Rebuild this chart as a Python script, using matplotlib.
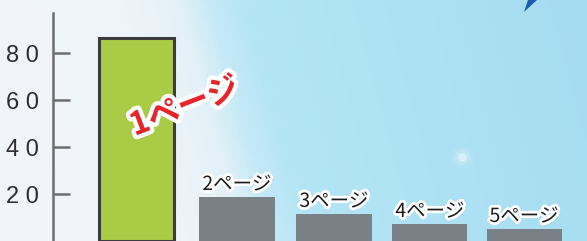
import matplotlib.pyplot as plt
import matplotlib.patheffects as pe
import numpy as np
from matplotlib.colors import LinearSegmentedColormap

# data
pages = ["1ページ", "2ページ", "3ページ", "4ページ", "5ページ"]
values = [86.5, 18.7, 11.5, 7.2, 5.1]
yticks = [20, 40, 60, 80]
ytick_labels = ["2 0", "4 0", "6 0", "8 0"]

plt.rcParams['font.family'] = ['Noto Sans CJK JP', 'DejaVu Sans']

fig = plt.figure(figsize=(5.87, 2.41), dpi=100)
ax = fig.add_axes([0, 0, 1, 1])

x = np.array([0, 1.037, 2.038, 3.028, 4.0])
xlim = (-1.409, 4.649)
ylim = (0, 102.6)
ax.set_xlim(*xlim)
ax.set_ylim(*ylim)

# soft sky background: white on the left, diagonal fade into light blue
bg = LinearSegmentedColormap.from_list(
    "bg", [(0, "#f1f5f9"), (0.2, "#eef4f8"), (0.3, "#e4f1f8"),
           (0.36, "#c4e9f7"), (0.42, "#b3e5f5"), (1, "#a6dcf0")])
px, py = np.meshgrid(np.arange(587), np.arange(241))
t = np.clip((px - 0.27 * py) / 587, 0, 1)
ax.imshow(t, cmap=bg, vmin=0, vmax=1, extent=(*xlim, *ylim),
          aspect='auto', zorder=0, origin='upper')

# glow spot and blue corner shape
for s, a in [(260, 0.08), (120, 0.15), (40, 0.4)]:
    ax.scatter([462 / 587], [1 - 157 / 241], s=s, color='white', alpha=a,
               lw=0, transform=ax.transAxes, zorder=0.5)
ax.add_patch(plt.Polygon([(528 / 587, 1.0), (537 / 587, 1.0),
                          (524 / 587, 1 - 12 / 241)],
                         transform=ax.transAxes, color='#1d5cab',
                         lw=0, zorder=0.5))

colors = ['#aacb46'] + ['#798086'] * 4
edges = ['#3c3c3e'] + ['none'] * 4
bars = ax.bar(x, values, width=0.775, color=colors, edgecolor=edges,
              linewidth=[2.2, 0, 0, 0, 0], zorder=2)

outline = [pe.withStroke(linewidth=4, foreground='white')]
for i in range(1, len(pages)):
    ax.annotate(pages[i], (x[i], values[i]), xytext=(0, 1.5),
                textcoords='offset points', ha='center', va='bottom',
                fontsize=14, color='#1a1a1a', path_effects=outline,
                zorder=3)

ax.text(0.5, 57, pages[0], ha='center', va='center', rotation=21,
        fontsize=23, fontweight='bold', color='#e5252b',
        path_effects=[pe.withStroke(linewidth=6, foreground='white')],
        zorder=3)

# y axis drawn inside the figure
for s in ['top', 'right', 'bottom']:
    ax.spines[s].set_visible(False)
ax.spines['left'].set_position(('data', -0.862))
ax.spines['left'].set_bounds(0, 97)
ax.spines['left'].set_color('#6e6e70')
ax.spines['left'].set_linewidth(1.8)
ax.set_yticks(yticks)
ax.set_yticklabels(ytick_labels, family=['Liberation Sans', 'DejaVu Sans'],
                   fontsize=17, color='#2e2e30')
ax.tick_params(axis='y', direction='in', length=12, width=1.8,
               color='#6e6e70', pad=10)
ax.set_xticks([])

fig.savefig("out.png", dpi=100)
